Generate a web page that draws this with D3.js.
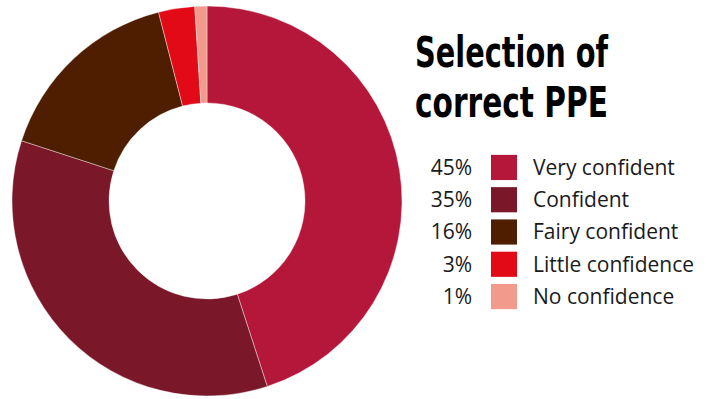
<!DOCTYPE html>
<html>
<head>
<meta charset="utf-8">
<script src="https://cdn.jsdelivr.net/npm/d3@7"></script>
<style>
  html, body { margin: 0; padding: 0; background: #fff; }
  svg { display: block; }
</style>
</head>
<body>
<svg id="chart" width="709" height="399"></svg>
<script>
// Survey: confidence in selecting the correct PPE
const categories = ["Very confident", "Confident", "Fairy confident", "Little confidence", "No confidence"];
const values = [45, 35, 16, 3, 1];
const colors = ["#B5173A", "#7A1729", "#4F1E00", "#E30A18", "#F29A8B"];
const titleLines = ["Selection of", "correct PPE"];

const svg = d3.select("#chart");

const cx = 207, cy = 201, outerR = 195, innerR = 98;

const pie = d3.pie().sort(null).value(d => d)
  .startAngle(0).endAngle(2 * Math.PI);
const arc = d3.arc().innerRadius(innerR).outerRadius(outerR);
const color = d3.scaleOrdinal().domain(categories).range(colors);

const g = svg.append("g").attr("transform", `translate(${cx},${cy})`);
g.selectAll("path")
  .data(pie(values))
  .join("path")
  .attr("d", arc)
  .attr("fill", (d, i) => color(categories[i]))
  .attr("stroke", "#fff")
  .attr("stroke-width", 0.4);

// Title: two condensed heavy lines
const title = svg.append("g")
  .attr("font-family", "'DejaVu Sans Condensed', 'DejaVu Sans', sans-serif")
  .attr("font-weight", "bold")
  .attr("font-size", 43)
  .attr("fill", "#000");
title.selectAll("text")
  .data(titleLines)
  .join("text")
  .attr("x", 415)
  .attr("y", (d, i) => 67 + i * 50)
  .attr("textLength", 193)
  .attr("lengthAdjust", "spacingAndGlyphs")
  .text(d => d);

// Legend
const y = d3.scaleBand().domain(categories).range([151, 313]).paddingInner(0.22).paddingOuter(0.12);
const legend = svg.append("g")
  .attr("font-family", "'Open Sans', 'Noto Sans', sans-serif")
  .attr("font-size", 21)
  .attr("fill", "#1a1a1a");

const rows = legend.selectAll("g.row")
  .data(categories)
  .join("g")
  .attr("class", "row")
  .attr("transform", d => `translate(0,${y(d)})`);

rows.append("rect")
  .attr("x", 491)
  .attr("y", 0)
  .attr("width", 26)
  .attr("height", y.bandwidth())
  .attr("fill", d => color(d));

rows.append("text")
  .attr("x", 472)
  .attr("y", y.bandwidth() / 2)
  .attr("dy", "0.35em")
  .attr("text-anchor", "end")
  .text((d, i) => values[i] + "%");

rows.append("text")
  .attr("x", 533)
  .attr("y", y.bandwidth() / 2)
  .attr("dy", "0.35em")
  .text(d => d);
</script>
</body>
</html>
